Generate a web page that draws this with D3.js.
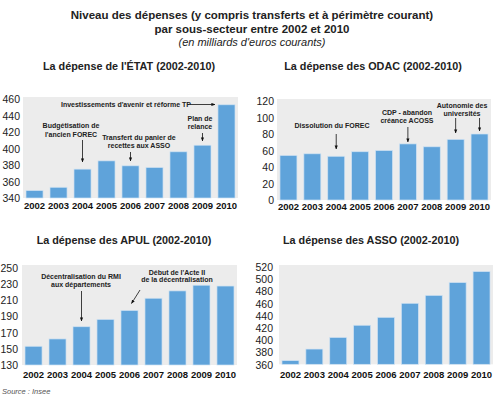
<!DOCTYPE html>
<html><head><meta charset="utf-8">
<script src="https://cdn.jsdelivr.net/npm/d3@7"></script>
<style>
body{margin:0;background:#fff;}
svg{display:block;}
.narrow{font-family:"Liberation Sans Narrow","Arial Narrow","Liberation Sans",sans-serif;font-stretch:condensed;font-weight:bold;}
</style></head><body>
<svg id="c" width="495" height="400"></svg>
<script>
const years = ["2002","2003","2004","2005","2006","2007","2008","2009","2010"];
const etatValues = [349, 353, 375, 385, 379, 377, 396, 404, 453];
const odacValues = [54, 56, 53, 58.5, 60, 68, 64.5, 73.5, 80];
const apulValues = [153, 162, 177, 186, 197, 212, 221, 228, 227];
const assoValues = [366, 385, 404, 424, 437, 460, 473, 494, 512];
const etatTicks = [340, 360, 380, 400, 420, 440, 460];
const odacTicks = [0, 20, 40, 60, 80, 100, 120];
const apulTicks = [130, 150, 170, 190, 210, 230, 250];
const assoTicks = [360, 380, 400, 420, 440, 460, 480, 500, 520];
const titles = ["La dépense de l'ÉTAT (2002-2010)", "La dépense des ODAC (2002-2010)",
                "La dépense des APUL (2002-2010)", "La dépense des ASSO (2002-2010)"];
const mainTitle = ["Niveau des dépenses (y compris transferts et à périmètre courant)", "par sous-secteur entre 2002 et 2010"];
const subTitle = "(en milliards d'euros courants)";
const source = "Source : Insee";

const svg = d3.select("#c");
const defs = svg.append("defs");
defs.append("marker").attr("id","ah").attr("viewBox","0 0 10 10").attr("refX",9).attr("refY",5)
  .attr("markerWidth",5).attr("markerHeight",5).attr("orient","auto")
  .append("path").attr("d","M0,1 L10,5 L0,9 Z").attr("fill","#111");

svg.append("text").attr("x",252).attr("y",19).attr("text-anchor","middle")
  .style("font-family","Liberation Sans, Arial, sans-serif").style("font-weight","bold").style("font-size","11.5px").attr("fill","#222").text(mainTitle[0]);
svg.append("text").attr("x",252).attr("y",33).attr("text-anchor","middle")
  .style("font-family","Liberation Sans, Arial, sans-serif").style("font-weight","bold").style("font-size","11.5px").attr("fill","#222").text(mainTitle[1]);
svg.append("text").attr("x",252).attr("y",45.5).attr("text-anchor","middle")
  .style("font-family","Liberation Sans, Arial, sans-serif").style("font-style","italic").style("font-size","11px").attr("fill","#222").text(subTitle);
svg.append("text").attr("x",2).attr("y",394)
  .style("font-family","Liberation Sans, Arial, sans-serif").style("font-style","italic").style("font-size","7.5px").attr("fill","#555").text(source);

const panels = [
  {values: etatValues, ticks: etatTicks, title: titles[0], tx: 129, ty: 70, x0: 23, x1: 238, yTop: 99, yBot: 198, lblX: 20, xlY: 209, bgTop: 97},
  {values: odacValues, ticks: odacTicks, title: titles[1], tx: 373, ty: 70, x0: 277, x1: 491, yTop: 101, yBot: 200, lblX: 274, xlY: 210, bgTop: 99},
  {values: apulValues, ticks: apulTicks, title: titles[2], tx: 124, ty: 244, x0: 22, x1: 237, yTop: 267.3, yBot: 365, lblX: 18, xlY: 377.5, bgTop: 265},
  {values: assoValues, ticks: assoTicks, title: titles[3], tx: 371, ty: 244, x0: 279, x1: 493, yTop: 266.7, yBot: 364.3, lblX: 273, xlY: 378, bgTop: 265},
];

panels.forEach(p => {
  const g = svg.append("g");
  const x = d3.scaleBand().domain(years).range([p.x0, p.x1]).paddingInner(0.29).paddingOuter(0.125);
  const y = d3.scaleLinear().domain([p.ticks[0], p.ticks[p.ticks.length-1]]).range([p.yBot, p.yTop]);
  p.x = x; p.y = y;
  g.append("rect").attr("x",p.x0).attr("y",p.bgTop).attr("width",p.x1-p.x0).attr("height",p.yBot-p.bgTop).attr("fill","#ececec");
  g.selectAll("rect.bar").data(p.values).join("rect").attr("class","bar")
    .attr("x",(d,i)=>x(years[i])).attr("width",x.bandwidth())
    .attr("y",d=>y(d)).attr("height",d=>y(p.ticks[0])-y(d))
    .attr("fill","#5fa3da").attr("stroke","#cfe2f2").attr("stroke-width",0.7);
  const ya = d3.axisLeft(y).tickValues(p.ticks).tickSize(0).tickPadding(0);
  const yg = g.append("g").attr("transform",`translate(${p.lblX},0)`).call(ya);
  yg.select(".domain").remove();
  yg.selectAll("text").style("font-family","Liberation Sans, Arial, sans-serif").style("font-size","10.5px").attr("fill","#222").attr("dy","0.36em");
  const xa = d3.axisBottom(x).tickSize(0).tickPadding(0);
  const xg = g.append("g").attr("transform",`translate(0,${p.xlY})`).call(xa);
  xg.select(".domain").remove();
  xg.selectAll("text").attr("class","narrow").style("font-size","9.5px").attr("fill","#111").attr("dy","0");
  g.append("text").attr("x",p.tx).attr("y",p.ty).attr("text-anchor","middle")
    .style("font-family","Liberation Sans, Arial, sans-serif").style("font-weight","bold").style("font-size","10.8px").attr("fill","#222").text(p.title);
});

function note(lines, cx, y0, lh) {
  lines.forEach((t,i) => svg.append("text").attr("class","narrow").attr("x",cx).attr("y",y0+i*lh)
    .attr("text-anchor","middle").style("font-size","7px").attr("fill","#222").text(t));
}
function arrow(x1,y1,x2,y2){
  svg.append("line").attr("x1",x1).attr("y1",y1).attr("x2",x2).attr("y2",y2)
    .attr("stroke","#111").attr("stroke-width",0.8).attr("marker-end","url(#ah)");
}
const E = panels[0], O = panels[1], A = panels[2];
const cx = (p, yr) => p.x(yr) + p.x.bandwidth()/2;

// ETAT
note(["Investissements d'avenir et réforme TP"], 126, 106.5, 8);
arrow(190, 104.5, E.x("2010") - 3, 104.5);
note(["Budgétisation de","l'ancien FOREC"], 71, 127.5, 9);
arrow(cx(E,"2004"), 140, cx(E,"2004"), 162);
note(["Transfert du panier de","recettes aux ASSO"], 139, 139.5, 8.5);
arrow(cx(E,"2006"), 152, cx(E,"2006"), 161);
note(["Plan de","relance"], 200, 121, 8);
arrow(cx(E,"2009"), 133, cx(E,"2009"), 141);

// ODAC
note(["Dissolution du FOREC"], 332, 128, 8);
arrow(cx(O,"2004"), 134, cx(O,"2004"), 149);
note(["CDP - abandon","créance ACOSS"], 407, 115, 8);
arrow(cx(O,"2007"), 127, cx(O,"2007"), 142);
note(["Autonomie des","universités"], 462, 107.5, 8);
arrow(cx(O,"2009"), 118, cx(O,"2009"), 133);
arrow(cx(O,"2010"), 118, cx(O,"2010"), 131);

// APUL
note(["Décentralisation du RMI","aux départements"], 81, 278.5, 8);
arrow(cx(A,"2004"), 291, cx(A,"2004"), 321);
note(["Début de l'Acte II","de la décentralisation"], 177, 274.5, 7.5);
arrow(140, 290, 131.5, 303.5);
</script>
</body></html>
